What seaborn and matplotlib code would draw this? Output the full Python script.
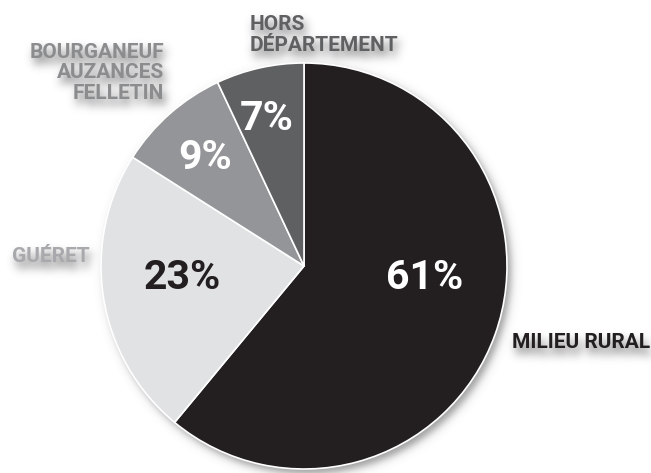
import numpy as np
import matplotlib
matplotlib.use("Agg")
import matplotlib.pyplot as plt
import seaborn as sns

# Origine des élèves
categories = ["MILIEU RURAL", "GUÉRET", "BOURGANEUF\nAUZANCES\nFELLETIN", "HORS\nDÉPARTEMENT"]
shares = [61, 23, 9, 7]
slice_colors = ["#231f20", "#e1e2e3", "#939598", "#5f6062"]
label_colors = ["#231f20", "#a7a9ac", "#8a8c8e", "#5f6062"]
pct_colors = ["#ffffff", "#231f20", "#ffffff", "#ffffff"]

sns.set_theme(style="white")
plt.rcParams["font.family"] = ["Roboto", "DejaVu Sans"]

W, H = 651, 473
cx, cy, R = 304, H - 266, 203

# label layout: x, y (from top), alignment
lab_pos = [(512, 342, "left"), (12, 256, "left"), (164, 73, "right"), (250, 35, "left")]
LABEL_KW = dict(va="center", fontsize=15, fontweight="bold", linespacing=1.1)


def new_canvas():
    f = plt.figure(figsize=(W / 100, H / 100), dpi=100)
    a = f.add_axes([0, 0, 1, 1])
    a.set_xlim(0, W)
    a.set_ylim(0, H)
    a.axis("off")
    return f, a


def blur(img, sigma):
    r = int(3 * sigma)
    k = np.exp(-0.5 * (np.arange(-r, r + 1) / sigma) ** 2)
    k /= k.sum()
    img = np.apply_along_axis(lambda v: np.convolve(v, k, mode="same"), 0, img)
    img = np.apply_along_axis(lambda v: np.convolve(v, k, mode="same"), 1, img)
    return img


def shift(img, dy, dx):
    out = np.zeros_like(img)
    out[dy:, dx:] = img[:img.shape[0] - dy, :img.shape[1] - dx]
    return out


# soft shadow of the category labels, rendered off-screen then blurred
sfig, sax = new_canvas()
for name, (x, y, ha) in zip(categories, lab_pos):
    sax.text(x, H - y, name, ha=ha, ma=ha, color="black", **LABEL_KW)
sfig.canvas.draw()
buf = np.asarray(sfig.canvas.buffer_rgba())[..., 0].astype(float)
plt.close(sfig)
text_mask = shift(blur(1 - buf / 255.0, 4.5), 7, 3)

# soft shadow of the disc
xx, yy = np.meshgrid(np.arange(W) + 0.5, np.arange(H) + 0.5)
d = np.hypot(xx - (cx + 4), (H - yy) - (cy - 5))
disc_mask = 1 / (1 + np.exp((d - R) / 2.5))

shadow = np.zeros((H, W, 4))
shadow[..., :3] = 0.3
shadow[..., 3] = np.clip(0.55 * disc_mask + 0.75 * text_mask, 0, 1)

fig, ax = new_canvas()
ax.imshow(shadow, extent=(0, W, 0, H), origin="upper", zorder=0, interpolation="bilinear")

palette = sns.color_palette(slice_colors)
wedges, _ = ax.pie(
    shares, colors=palette, startangle=90, counterclock=False,
    center=(cx, cy), radius=R, frame=True,
    wedgeprops=dict(edgecolor="white", linewidth=1.2),
)
for w in wedges:
    w.set_zorder(2)
ax.set_xlim(0, W)
ax.set_ylim(0, H)
ax.set_aspect("equal")
ax.axis("off")

# percentage labels inside the slices
pct_pos = [(425, 278), (182, 278), (205, 158), (267, 119)]
for v, (x, y), c in zip(shares, pct_pos, pct_colors):
    ax.text(x, H - y, f"{v}%", ha="center", va="center", color=c,
            fontsize=29.5, fontweight="bold", zorder=4)

# category labels around the pie
for name, (x, y, ha), c in zip(categories, lab_pos, label_colors):
    ax.text(x, H - y, name, ha=ha, ma=ha, color=c, zorder=4, **LABEL_KW)

fig.savefig("out.png", dpi=100)
